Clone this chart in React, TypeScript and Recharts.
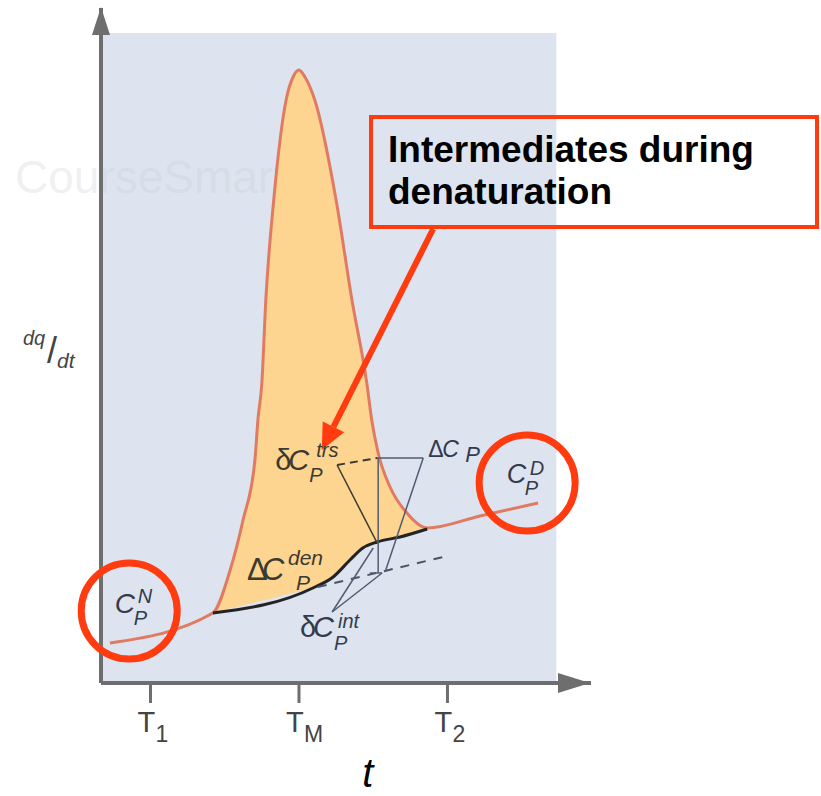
import React from 'react';
import {
  ComposedChart,
  Area,
  Line,
  XAxis,
  YAxis,
  ReferenceArea,
  ReferenceLine,
  ReferenceDot,
} from 'recharts';

// x = temperature t (arbitrary units), y = dq/dt (arbitrary units)
const tickValues = [10, 40, 70];
const tickSubs = ['1', 'M', '2'];

// total heat capacity curve (native baseline -> peak -> denatured baseline)
const curveX = [1.8, 22.6, 26.1, 28.7, 31.1, 31.7, 32.5, 33.3, 34.9, 37.4, 38.8, 40.0, 41.2, 43.2, 47.5, 50.7, 53.7, 54.7, 56.0, 58.4, 61.8, 65.9, 76.6, 88.3];
const curveY = [8.0, 14.0, 22.6, 32.6, 44.6, 52.6, 60.0, 76.6, 96.6, 116.6, 121.2, 122.6, 121.2, 116.6, 96.6, 76.6, 60.0, 52.6, 46.0, 39.2, 34.0, 31.0, 33.4, 36.0];

// progress baseline under the peak (read at the same x as curveX[1..21])
const fillLow = [14.0, 14.9, 15.5, 16.1, 16.3, 16.5, 16.6, 17.0, 17.7, 18.0, 18.3, 18.6, 19.2, 21.8, 25.0, 27.3, 27.7, 28.2, 28.8, 29.5, 30.8];

// black ΔCp(den) baseline
const denX = [22.6, 42.8, 46.9, 50.3, 52.9, 55.8, 60.4, 65.9];
const denY = [14.0, 19.0, 21.2, 24.6, 27.0, 28.2, 29.2, 30.8];

// native baseline extrapolated (dashed)
const nativeExt = [{ x: 43.8, y: 19.2 }, { x: 69.1, y: 25.2 }];

// thin leader lines of the annotations
const trsDash = [{ x: 47.7, y: 43.6 }, { x: 55.8, y: 45.0 }];
const leaders = [
  [{ x: 55.8, y: 45.0 }, { x: 65.1, y: 45.0 }],
  [{ x: 65.1, y: 45.0 }, { x: 57.4, y: 22.2 }],
  [{ x: 56.0, y: 45.0 }, { x: 56.0, y: 22.0 }],
  [{ x: 54.3, y: 22.0 }, { x: 56.8, y: 22.0 }],
  [{ x: 46.7, y: 14.2 }, { x: 55.0, y: 27.0 }],
  [{ x: 46.7, y: 14.2 }, { x: 56.8, y: 22.0 }],
];
const trsLeader = [{ x: 47.7, y: 43.6 }, { x: 55.8, y: 28.0 }];

// callout arrow: from box to δCp(trs)
const calloutArrow = [{ x: 67.1, y: 90.8 }, { x: 44.6, y: 46.6 }];

// highlighted baselines (circles)
const circles = [{ x: 5.7, y: 14.4 }, { x: 86.1, y: 40.0 }];

const curveRows = curveX.map((x, i) => ({ x, y: curveY[i] }));
const fillRows = fillLow.map((lo, i) => ({ x: curveX[i + 1], range: [lo, curveY[i + 1]] }));
const denRows = denX.map((x, i) => ({ x, y: denY[i] }));

const FONT = '"Liberation Sans", Arial, sans-serif';
const RED = '#ff3b0f';
const AXIS = '#6e6e6e';
const SLATE = '#333b4d';
const OLIVE = '#3b3a30';

const TTick = (props: any) => {
  const { x, y, payload } = props;
  const i = tickValues.indexOf(payload.value);
  return (
    <text x={x - 13} y={y + 27} fill="#444" fontFamily={FONT} fontSize={29}>
      T
      <tspan x={x + 5} y={y + 37} fontSize={23}>{tickSubs[i]}</tspan>
    </text>
  );
};

const symbol = (o: any) => (p: any) => {
  const cx = p.cx;
  const cy = p.cy;
  const c = cx + (o.preW || 0);
  return (
    <text x={cx} y={cy} fill={o.color} fontFamily={FONT} fontSize={o.size}>
      {o.pre && <tspan>{o.pre}</tspan>}
      <tspan x={c} y={cy} fontStyle="italic">C</tspan>
      {o.sup && (
        <tspan x={c + o.sup[1]} y={cy + o.sup[2]} fontSize={o.small} fontStyle="italic">{o.sup[0]}</tspan>
      )}
      <tspan x={c + o.sub[1]} y={cy + o.sub[2]} fontSize={o.small} fontStyle="italic">{o.sub[0]}</tspan>
    </text>
  );
};

const ellipse = (p: any) => (
  <ellipse cx={p.cx} cy={p.cy} rx={48} ry={48} fill="none" stroke={RED} strokeWidth={7} />
);

const arrowShape = (p: any) => {
  const { x1, y1, x2, y2 } = p;
  const dx = x2 - x1;
  const dy = y2 - y1;
  const len = Math.sqrt(dx * dx + dy * dy);
  const ux = dx / len;
  const uy = dy / len;
  const bx = x2 - ux * 26;
  const by = y2 - uy * 26;
  return (
    <g>
      <line x1={x1} y1={y1} x2={bx} y2={by} stroke={RED} strokeWidth={6} />
      <polygon
        points={`${x2},${y2} ${bx - uy * 12},${by + ux * 12} ${bx + uy * 12},${by - ux * 12}`}
        fill={RED}
      />
    </g>
  );
};

export default function App() {
  return (
    <div style={{ position: 'absolute', left: 0, top: 0, width: 821, height: 796, background: '#fff' }}>
      <ComposedChart width={821} height={796} margin={{ top: 8, right: 230, bottom: 53, left: 101 }}>
        <XAxis
          type="number"
          dataKey="x"
          domain={[0, 99]}
          ticks={tickValues}
          tick={(p: any) => <TTick {...p} />}
          tickSize={20}
          tickLine={{ stroke: AXIS, strokeWidth: 3 }}
          axisLine={{ stroke: AXIS, strokeWidth: 4 }}
          height={60}
          allowDataOverflow
        />
        <YAxis type="number" domain={[0, 135]} hide allowDataOverflow />
        <ReferenceArea x1={0} x2={92} y1={0} y2={130} fill="#dde4f0" fillOpacity={1} stroke="none" zIndex={-20} />
        <ReferenceDot
          x={0}
          y={98}
          r={0}
          ifOverflow="visible"
          zIndex={-10}
          shape={(p: any) => (
            <text x={p.cx - 86} y={p.cy} fontSize={46} fontFamily={FONT} fill="#c9ccd2" fillOpacity={0.3}>
              CourseSmart
            </text>
          )}
        />
        <Area data={fillRows} dataKey="range" type="monotone" fill="#fdd490" fillOpacity={1} stroke="none" isAnimationActive={false} />
        <Line data={curveRows} dataKey="y" type="monotone" stroke="#e07b62" strokeWidth={3} dot={false} activeDot={false} isAnimationActive={false} />
        <Line data={denRows} dataKey="y" type="monotone" stroke="#232323" strokeWidth={3} dot={false} activeDot={false} isAnimationActive={false} />
        <ReferenceLine segment={nativeExt} stroke="#4a5266" strokeWidth={2} strokeDasharray="9 8" ifOverflow="visible" />
        <ReferenceLine segment={trsDash} stroke={OLIVE} strokeWidth={2} strokeDasharray="8 5" ifOverflow="visible" />
        <ReferenceLine segment={trsLeader} stroke={OLIVE} strokeWidth={1.5} ifOverflow="visible" />
        {leaders.map((s, i) => (
          <ReferenceLine key={i} segment={s} stroke="#525b70" strokeWidth={1.5} ifOverflow="visible" />
        ))}
        <ReferenceLine x={0} stroke={AXIS} strokeWidth={4} />
        <ReferenceDot
          x={0}
          y={135}
          r={0}
          ifOverflow="visible"
          shape={(p: any) => (
            <polygon points={`${p.cx},${p.cy - 1} ${p.cx - 9},${p.cy + 27} ${p.cx + 9},${p.cy + 27}`} fill={AXIS} />
          )}
        />
        <ReferenceDot
          x={99}
          y={0}
          r={0}
          ifOverflow="visible"
          shape={(p: any) => (
            <polygon points={`${p.cx - 1},${p.cy} ${p.cx - 33},${p.cy - 10} ${p.cx - 33},${p.cy + 10}`} fill={AXIS} />
          )}
        />
        <ReferenceDot x={2.8} y={14.0} r={0} ifOverflow="visible"
          shape={symbol({ color: SLATE, size: 28, small: 20, sup: ['N', 23, -10], sub: ['P', 19, 12] })} />
        <ReferenceDot x={82.0} y={40.0} r={0} ifOverflow="visible"
          shape={symbol({ color: SLATE, size: 27, small: 20, sup: ['D', 23, -8], sub: ['P', 18, 12] })} />
        <ReferenceDot x={35.2} y={42.6} r={0} ifOverflow="visible"
          shape={symbol({ color: OLIVE, pre: 'δ', preW: 13, size: 29, small: 20, sup: ['trs', 28, -13], sub: ['P', 21, 12] })} />
        <ReferenceDot x={29.5} y={20.6} r={0} ifOverflow="visible"
          shape={symbol({ color: OLIVE, pre: 'Δ', preW: 15, size: 31, small: 21, sup: ['den', 26, -15], sub: ['P', 34, 10] })} />
        <ReferenceDot x={40.2} y={9.2} r={0} ifOverflow="visible"
          shape={symbol({ color: SLATE, pre: 'δ', preW: 13, size: 29, small: 20, sup: ['int', 25, -9], sub: ['P', 21, 13] })} />
        <ReferenceDot x={66.1} y={45.2} r={0} ifOverflow="visible"
          shape={symbol({ color: SLATE, pre: 'Δ', preW: 14, size: 23, small: 22, sub: ['P', 23, 5] })} />
        <ReferenceDot
          x={0}
          y={70}
          r={0}
          ifOverflow="visible"
          shape={(p: any) => (
            <text x={p.cx - 78} y={p.cy + 12} fill="#444" fontFamily={FONT} fontSize={20} fontStyle="italic">
              dq
              <tspan x={p.cx - 54} y={p.cy + 30} fontSize={36} fontStyle="normal" fontWeight={300}>/</tspan>
              <tspan x={p.cx - 44} y={p.cy + 35} fontSize={21}>dt</tspan>
            </text>
          )}
        />
        <ReferenceDot
          x={54}
          y={0}
          r={0}
          ifOverflow="visible"
          shape={(p: any) => (
            <text x={p.cx - 6} y={p.cy + 104} fontSize={40} fontStyle="italic" fontFamily={FONT} fill="#000">t</text>
          )}
        />
        {circles.map((c, i) => (
          <ReferenceDot key={i} x={c.x} y={c.y} r={0} ifOverflow="visible" shape={ellipse} />
        ))}
        <ReferenceLine segment={calloutArrow} ifOverflow="visible" shape={arrowShape} />
      </ComposedChart>
      <div
        style={{
          position: 'absolute',
          left: 369,
          top: 115,
          width: 450,
          height: 114,
          border: `4px solid ${RED}`,
          boxSizing: 'border-box',
          padding: '10px 0 0 15px',
          fontFamily: FONT,
          fontWeight: 'bold',
          fontSize: 37,
          lineHeight: '42px',
          color: '#000',
        }}
      >
        Intermediates during
        <br />
        denaturation
      </div>
    </div>
  );
}
